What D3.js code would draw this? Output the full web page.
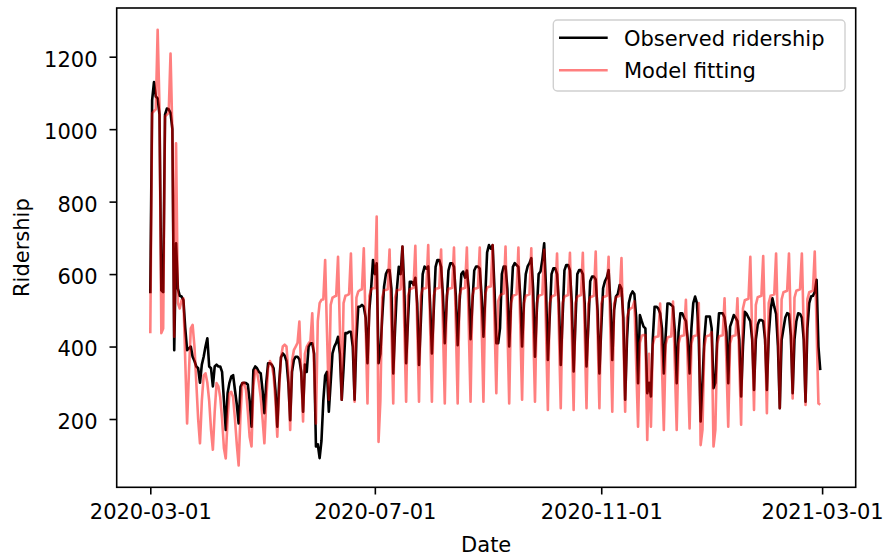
<!DOCTYPE html>
<html>
<head>
<meta charset="utf-8">
<script src="https://cdn.jsdelivr.net/npm/d3@7"></script>
<style>
  body { margin: 0; background: #fff; }
  svg { display: block; font-family: 'DejaVu Sans', sans-serif; }
</style>
</head>
<body>
<svg id="chart" width="888" height="556"></svg>
<script>
// daily values, first day 2020-03-01 (a Sunday), one row per week
const startDate = '2020-03-01'

const observed = [
  547, 1080, 1130, 1090, 1085, 1040, 555,
  550, 1040, 1057, 1055, 1045, 1000, 390,
  685, 560, 540, 538, 528, 450, 390,
  395, 400, 372, 360, 345, 340, 300,
  350, 372, 400, 423, 345, 340, 290,
  345, 350, 345, 345, 330, 252, 170,
  271, 300, 317, 321, 280, 240, 188,
  289, 299, 300, 299, 295, 250, 179,
  335, 345, 340, 330, 326, 280, 216,
  300, 354, 354, 350, 340, 280, 179,
  300, 370, 381, 375, 360, 300, 197,
  330, 363, 372, 372, 365, 330, 220,
  350, 330, 400, 409, 409, 380, 124,
  130, 92, 140, 250, 320, 330, 220,
  300, 381, 400, 410, 427, 380, 253,
  340, 437, 437, 441, 441, 400, 253,
  420, 510, 510, 515, 510, 480, 354,
  500, 561, 639, 600, 630, 354, 380,
  480, 565, 600, 611, 611, 560, 326,
  450, 560, 620, 600, 676, 560, 354,
  470, 579, 579, 570, 590, 520, 349,
  470, 600, 621, 615, 621, 520, 381,
  500, 620, 639, 639, 620, 540, 409,
  520, 610, 630, 630, 620, 540, 404,
  520, 600, 607, 590, 610, 560, 420,
  520, 610, 621, 621, 615, 540, 427,
  540, 660, 680, 670, 680, 560, 409,
  409, 450, 600, 621, 621, 560, 400,
  520, 620, 630, 625, 620, 540, 400,
  520, 600, 621, 630, 644, 560, 372,
  500, 600, 607, 640, 685, 560, 363,
  480, 600, 616, 616, 600, 520, 349,
  480, 610, 625, 625, 610, 520, 331,
  470, 600, 611, 611, 600, 520, 345,
  460, 580, 593, 593, 585, 500, 326,
  450, 561, 580, 590, 611, 520, 363,
  501, 538, 545, 570, 560, 480, 253,
  420, 520, 542, 552, 545, 480, 299,
  487, 470, 455, 450, 271, 300, 262,
  420, 510, 510, 505, 492, 450, 326,
  430, 519, 519, 515, 510, 440, 299,
  440, 492, 492, 480, 470, 420, 326,
  450, 520, 538, 520, 420, 193, 300,
  420, 483, 483, 483, 450, 285, 300,
  420, 492, 492, 492, 480, 440, 299,
  455, 470, 487, 480, 470, 420, 262,
  400, 496, 490, 480, 470, 420, 280,
  420, 460, 473, 473, 470, 420, 280,
  430, 500, 533, 510, 490, 400, 230,
  418, 450, 480, 492, 490, 430, 271,
  420, 470, 492, 490, 480, 420, 248,
  450, 520, 538, 540, 550, 584, 400,
  335
]

const modelFit = [
  437, 1044, 1050, 1055, 1274, 1060, 437,
  450, 1035, 1040, 1045, 1209, 990, 427,
  961, 520, 505, 528, 533, 360, 188,
  330, 450, 460, 400, 300, 200, 133,
  250, 320, 326, 300, 250, 170, 115,
  220, 299, 290, 260, 200, 120, 91,
  200, 271, 275, 260, 200, 130, 72,
  210, 299, 300, 280, 220, 150, 124,
  290, 335, 330, 300, 260, 200, 133,
  250, 340, 360, 350, 320, 250, 151,
  280, 370, 400, 405, 400, 330, 170,
  360, 390, 400, 410, 469, 330, 193,
  380, 400, 409, 415, 492, 340, 188,
  470, 520, 529, 530, 639, 440, 253,
  515, 535, 538, 540, 648, 450, 253,
  520, 540, 542, 545, 657, 450, 248,
  535, 552, 556, 558, 671, 460, 243,
  540, 558, 561, 561, 759, 137, 250,
  535, 556, 556, 558, 668, 455, 243,
  535, 556, 556, 558, 676, 460, 248,
  540, 558, 560, 562, 678, 460, 248,
  540, 560, 560, 562, 680, 465, 248,
  540, 560, 560, 562, 668, 455, 243,
  540, 560, 560, 562, 673, 460, 243,
  540, 560, 560, 562, 673, 460, 248,
  540, 560, 560, 562, 673, 460, 248,
  545, 563, 565, 566, 680, 475, 271,
  525, 540, 545, 546, 676, 460, 243,
  520, 540, 542, 544, 673, 460, 253,
  520, 540, 542, 544, 671, 460, 248,
  520, 540, 542, 544, 667, 445, 225,
  520, 538, 540, 542, 657, 445, 230,
  520, 538, 540, 542, 659, 440, 225,
  520, 538, 540, 542, 659, 445, 230,
  518, 536, 538, 540, 662, 445, 230,
  518, 536, 538, 540, 648, 435, 220,
  518, 536, 538, 540, 644, 430, 220,
  480, 500, 505, 508, 525, 350, 179,
  410, 430, 432, 432, 142, 380, 179,
  405, 425, 427, 428, 519, 345, 170,
  405, 425, 427, 428, 524, 345, 170,
  408, 428, 430, 431, 529, 350, 174,
  408, 428, 430, 431, 520, 128, 170,
  400, 428, 430, 431, 440, 124, 170,
  408, 428, 430, 431, 533, 355, 179,
  408, 428, 430, 431, 533, 358, 184,
  505, 528, 530, 532, 648, 435, 225,
  515, 536, 538, 540, 650, 430, 216,
  520, 540, 542, 544, 657, 445, 230,
  530, 550, 552, 554, 657, 455, 257,
  535, 554, 556, 558, 657, 450, 239,
  530, 550, 552, 554, 662, 450, 243,
  240
]

const xTicks = ['2020-03-01', '2020-07-01', '2020-11-01', '2021-03-01']
const yTicks = [200, 400, 600, 800, 1000, 1200]
const seriesNames = ['Observed ridership', 'Model fitting']

const parse = d3.utcParse('%Y-%m-%d')
const start = parse(startDate)
const days = observed.map((v, i) => d3.utcDay.offset(start, i))

// matplotlib-like frame (5% margins around the data)
const plotLeft = 116.7, plotRight = 855.7, plotTop = 8, plotBottom = 487.3
const xPad = (parse(xTicks[3]) - start) * 0.05

const x = d3.scaleUtc()
  .domain([new Date(+start - xPad), new Date(+parse(xTicks[3]) + xPad)])
  .range([plotLeft, plotRight])

const y = d3.scaleLinear()
  .domain([11.5, 1334.4])
  .range([plotBottom, plotTop])

const svg = d3.select('#chart')
const fontSize = 21

// data lines: observed first, model on top at half opacity
const line = values => d3.line()
  .x((d, i) => x(days[i]))
  .y(d => y(d))(values)

svg.append('path')
  .attr('d', line(observed))
  .attr('fill', 'none')
  .attr('stroke', '#000')
  .attr('stroke-width', 2.6)
  .attr('stroke-linejoin', 'round')

svg.append('path')
  .attr('d', line(modelFit))
  .attr('fill', 'none')
  .attr('stroke', 'red')
  .attr('stroke-opacity', 0.5)
  .attr('stroke-width', 2.6)
  .attr('stroke-linejoin', 'round')

// axes
const xAxis = svg.append('g')
  .attr('transform', `translate(0,${plotBottom})`)
  .call(d3.axisBottom(x)
    .tickValues(xTicks.map(parse))
    .tickFormat(d3.utcFormat('%Y-%m-%d'))
    .tickSize(7.2)
    .tickPadding(10))

const yAxis = svg.append('g')
  .attr('transform', `translate(${plotLeft},0)`)
  .call(d3.axisLeft(y)
    .tickValues(yTicks)
    .tickFormat(d3.format('d'))
    .tickSize(7.2)
    .tickPadding(12))

;[xAxis, yAxis].forEach(g => {
  g.select('.domain').remove()
  g.attr('font-family', null).attr('font-size', null)
  g.selectAll('line').attr('stroke', '#000').attr('stroke-width', 1.6)
  g.selectAll('text')
    .attr('fill', '#000')
    .style('font-size', fontSize + 'px')
})
yAxis.selectAll('text').attr('dy', '0.45em')

// frame
svg.append('rect')
  .attr('x', plotLeft)
  .attr('y', plotTop)
  .attr('width', plotRight - plotLeft)
  .attr('height', plotBottom - plotTop)
  .attr('fill', 'none')
  .attr('stroke', '#000')
  .attr('stroke-width', 1.6)

// axis titles
svg.append('text')
  .attr('x', (plotLeft + plotRight) / 2)
  .attr('y', 551.5)
  .attr('text-anchor', 'middle')
  .style('font-size', fontSize + 'px')
  .text('Date')

svg.append('text')
  .attr('transform', `translate(29,${(plotTop + plotBottom) / 2}) rotate(-90)`)
  .attr('text-anchor', 'middle')
  .style('font-size', fontSize + 'px')
  .text('Ridership')

// legend
const legend = svg.append('g')
legend.append('rect')
  .attr('x', 553.3)
  .attr('y', 20)
  .attr('width', 291.7)
  .attr('height', 71)
  .attr('rx', 4)
  .attr('fill', '#fff')
  .attr('fill-opacity', 0.8)
  .attr('stroke', '#d0d0d0')
  .attr('stroke-width', 1.4)

const legendStyles = [
  { stroke: '#000', opacity: 1 },
  { stroke: 'red', opacity: 0.5 }
]

seriesNames.forEach((name, i) => {
  const cy = 37.7 + i * 32.5
  legend.append('line')
    .attr('x1', 559).attr('x2', 607.7)
    .attr('y1', cy).attr('y2', cy)
    .attr('stroke', legendStyles[i].stroke)
    .attr('stroke-opacity', legendStyles[i].opacity)
    .attr('stroke-width', 2.6)
  legend.append('text')
    .attr('x', 624)
    .attr('y', cy + 7.8)
    .style('font-size', fontSize + 'px')
    .text(name)
})
</script>
</body>
</html>
